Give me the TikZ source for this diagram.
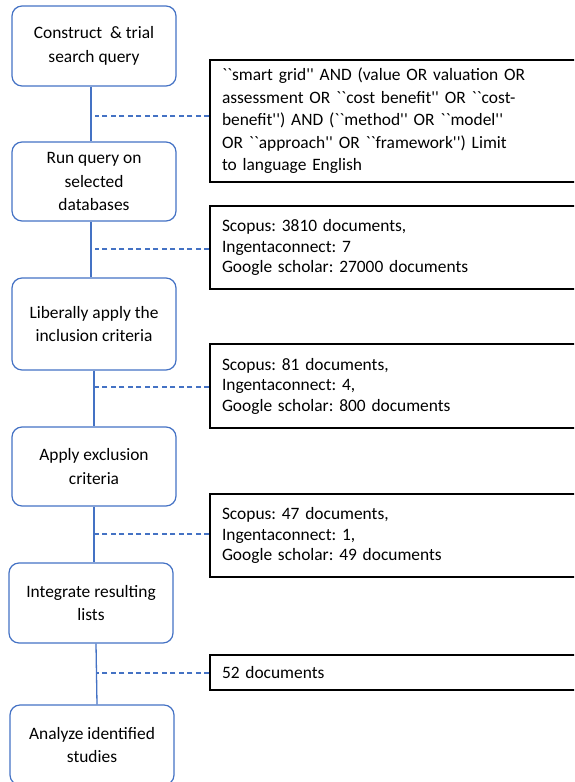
\documentclass[tikz,border=0pt]{standalone}
\usepackage{fontspec}
\setmainfont{Carlito}[Ligatures=TeXOff]
\usetikzlibrary{calc}
\definecolor{lblue}{HTML}{4472C4}
\tikzset{
  stepbox/.style={draw=lblue, line width=1.2pt, rounded corners=10pt, minimum width=164pt, align=center, font=\fontsize{17.4}{23.5}\selectfont\frenchspacing, inner sep=2pt},
  infobox/.style={draw=black, line width=1.3pt, minimum width=370pt, text width=346pt, inner xsep=12pt, inner ysep=0pt, align=left, font=\fontsize{17.4}{20.5}\selectfont\frenchspacing},
  link/.style={draw=lblue, line width=1.3pt},
  dlink/.style={draw=lblue, line width=1.3pt, dash pattern=on 5pt off 3.5pt}
}
\begin{document}
\begin{tikzpicture}[x=1pt,y=-1pt]
\useasboundingbox (0,0) rectangle (574,782);
\clip (0,0) rectangle (574,782);
\node[stepbox, minimum height=80pt] (b1) at (94,46) {Construct~ \& trial\\search query};
\node[stepbox, minimum height=79pt] (b2) at (94,181.5) {Run query on\\selected\\databases};
\node[stepbox, minimum height=92pt] (b3) at (94,324) {Liberally apply the\\inclusion criteria};
\node[stepbox, minimum height=79pt] (b4) at (94,466.5) {Apply exclusion\\criteria};
\node[stepbox, minimum height=80pt] (b5) at (91,603) {Integrate resulting\\lists};
\node[stepbox, minimum height=80pt] (b6) at (92,745) {Analyze identified\\studies};

\node[infobox, minimum height=122pt, font=\fontsize{17.4}{22.5}\selectfont\frenchspacing] (r1) at (395,121) {``smart grid'' AND (value OR valuation OR\\assessment OR ``cost benefit'' OR ``cost-\\benefit'') AND (``method'' OR ``model''\\OR ``approach'' OR ``framework'') Limit\\to language English};
\node[infobox, minimum height=83pt] (r2) at (395,247.5) {Scopus: 3810 documents,\\Ingentaconnect: 7\\Google scholar: 27000 documents};
\node[infobox, minimum height=84pt] (r3) at (395,386) {Scopus: 81 documents,\\Ingentaconnect: 4,\\Google scholar: 800 documents};
\node[infobox, minimum height=83pt] (r4) at (395,535.5) {Scopus: 47 documents,\\Ingentaconnect: 1,\\Google scholar: 49 documents};
\node[infobox, minimum height=35pt] (r5) at (395,672.5) {52 documents};

\draw[link] (b1.south -| 91,0) -- (b2.north -| 91,0);
\draw[link] (b2.south -| 91,0) -- (b3.north -| 91,0);
\draw[link] (b3.south -| 94,0) -- (b4.north -| 94,0);
\draw[link] (b4.south -| 94,0) -- (b5.north -| 94,0);
\draw[link] (b5.south -| 96,0) -- (b6.north -| 97,0);

\draw[dlink] (r1.west |- 0,116) -- (95,116);
\draw[dlink] (r2.west |- 0,249) -- (95,249);
\draw[dlink] (r3.west |- 0,387) -- (95,387);
\draw[dlink] (r4.west |- 0,534) -- (95,534);
\draw[dlink] (r5.west |- 0,673) -- (96,673);
\end{tikzpicture}
\end{document}
